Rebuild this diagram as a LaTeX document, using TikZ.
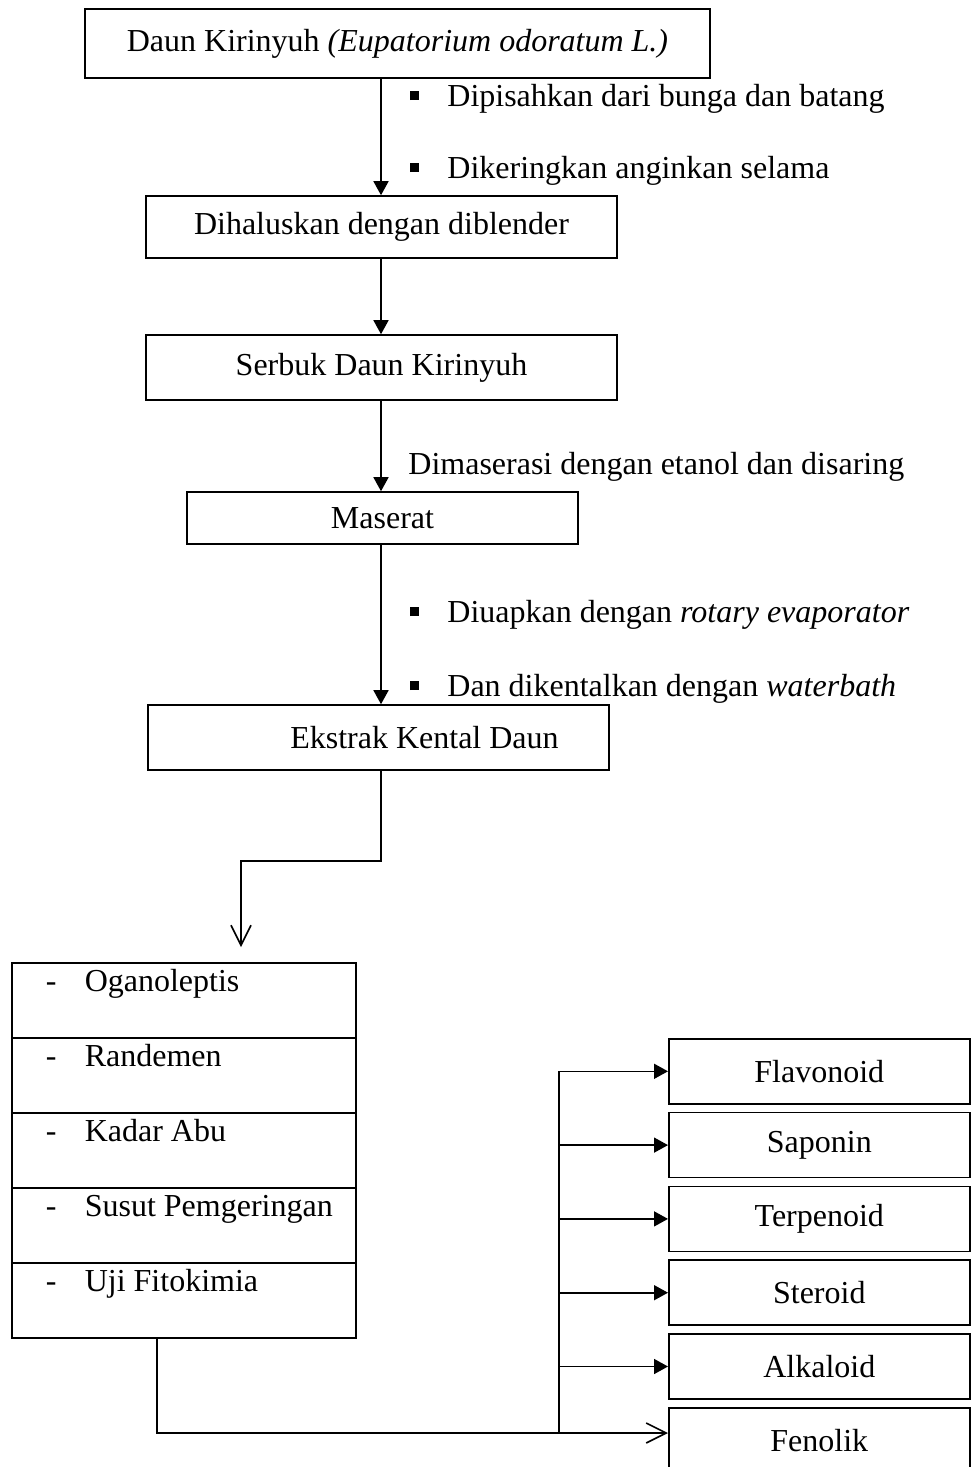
\documentclass[tikz,border=0pt]{standalone}
\usepackage{fontspec}
\setmainfont{Liberation Serif}
\usepackage{tikz}
\usetikzlibrary{arrows.meta}

\newcommand{\bulet}{\makebox[18.5pt][l]{\raisebox{3pt}{\rule{4.5pt}{4.5pt}}}}

\tikzset{
	kotak/.style={draw, line width=0.8pt, font=\fontsize{16}{19}\selectfont},
	teks/.style={inner sep=0pt, anchor=base west, font=\fontsize{16}{19}\selectfont},
	sel/.style={draw, line width=0.8pt, anchor=north west, inner sep=0pt, text height=14.25pt, text depth=23.25pt, font=\fontsize{16}{19}\selectfont},
	garis/.style={line width=0.8pt},
	panah/.style={line width=0.8pt, -{Triangle[length=7pt,width=7.5pt]}},
	panahbuka/.style={line width=0.8pt, -{Straight Barb[length=10pt,width=10pt]}}
}

\begin{document}
\begin{tikzpicture}[x=0.5pt,y=-0.5pt]
	\useasboundingbox (0,0) rectangle (972,1467);
	\pgfmathsetmacro{\barisTinggi}{75}
	\pgfmathsetmacro{\kotakJarak}{73.8}
	\coordinate (spine) at (381,0);
	\coordinate (siku) at (241,861);
	\coordinate (turun) at (157,1433);
	\coordinate (bus) at (559,1433);
	
	% Alur utama - dari daun sampai ekstrak
	\node[kotak, minimum width=312.5pt, minimum height=34.5pt] (daun) at (397.5,43.5) {Daun Kirinyuh \textit{(Eupatorium odoratum L.)}};
	\node[kotak, minimum width=235.5pt, minimum height=31pt] (halus) at (381.5,227) {Dihaluskan dengan diblender};
	\node[kotak, minimum width=235.5pt, minimum height=32.5pt] (serbuk) at (381.5,367.5) {Serbuk Daun Kirinyuh};
	\node[kotak, minimum width=195.5pt, minimum height=26pt] (maserat) at (382.5,518) {Maserat};
	\node[kotak, minimum width=230.5pt, minimum height=32.5pt] (ekstrak) at (378.5,737.5) {\hspace*{46pt}Ekstrak Kental Daun};
	
	\draw[panah] (daun.south -| spine) -- (halus.north -| spine);
	\draw[panah] (halus.south -| spine) -- (serbuk.north -| spine);
	\draw[panah] (serbuk.south -| spine) -- (maserat.north -| spine);
	\draw[panah] (maserat.south -| spine) -- (ekstrak.north -| spine);
	
	% Keterangan perlakuan
	\node[teks] (ket-1) at (410,106) {\bulet Dipisahkan dari bunga dan batang};
	\node[teks] (ket-2) at (410,178) {\bulet Dikeringkan anginkan selama};
	\node[teks] (ket-3) at (408,474) {Dimaserasi dengan etanol dan disaring};
	\node[teks] (ket-4) at (410,622) {\bulet Diuapkan dengan \textit{rotary evaporator}};
	\node[teks] (ket-5) at (410,696) {\bulet Dan dikentalkan dengan \textit{waterbath}};
	
	% Tabel uji ekstrak
	\foreach \nama [count=\i] in {Oganoleptis, Randemen, Kadar Abu, Susut Pemgeringan, Uji Fitokimia} {
		\node[sel] (uji-\i) at (11,{962+(\i-1)*\barisTinggi}) {\makebox[172pt][l]{\hspace*{17pt}\makebox[19.5pt][l]{-}\nama}};
	}
	\draw[panahbuka, shorten >=7.5pt] (ekstrak.south -| spine) |- (siku) -- (siku |- uji-1.north);
	
	% Senyawa fitokimia
	\foreach \nama [count=\i] in {Flavonoid, Saponin, Terpenoid, Steroid, Alkaloid, Fenolik} {
		\node[kotak, minimum width=150.5pt, minimum height=32.5pt, anchor=north west] (kanan-\i) at (668,{1038+(\i-1)*\kotakJarak}) {\nama};
	}
	\foreach \i in {1,...,5} {
		\draw[panah] (bus |- kanan-\i.west) -- (kanan-\i.west);
	}
	\draw[garis] (bus |- kanan-1.west) -- (bus);
	\draw[panahbuka] (uji-5.south -| turun) -- (turun) -- (kanan-6.west |- turun);
\end{tikzpicture}
\end{document}
